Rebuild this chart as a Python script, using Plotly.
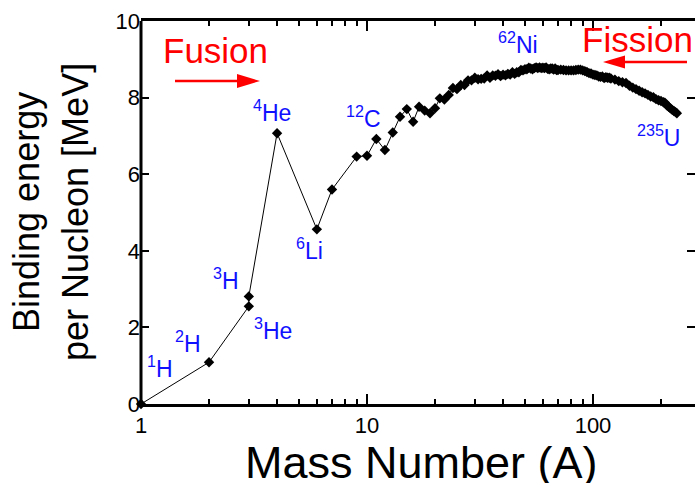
import plotly.graph_objects as go

# ---- data ----
mass_number = [1, 2, 3, 3, 4, 6, 7, 9, 10, 11, 12, 13, 14, 15, 16, 17, 18, 19, 20, 21, 22, 23, 24,
               25, 26, 27, 28, 29, 30, 31, 32, 33, 34, 35, 36, 37, 38, 39, 40, 41, 42, 43, 44, 45,
               46, 47, 48, 49, 50, 51, 52, 53, 54, 55, 56, 57, 58, 59, 60, 61, 62, 63, 64, 65, 66,
               67, 68, 69, 70, 72, 74, 76, 78, 80, 82, 84, 86, 88, 90, 92, 94, 96, 98, 100, 102,
               104, 106, 108, 110, 112, 114, 116, 118, 120, 125, 130, 135, 140, 145, 150, 155, 160,
               165, 170, 175, 180, 185, 190, 195, 200, 205, 208, 212, 216, 220, 224, 228, 232, 235]
binding_energy = [0.00, 1.09, 2.55, 2.81, 7.07, 4.56, 5.60, 6.46, 6.48, 6.92, 6.63, 7.09, 7.50, 7.70,
                  7.37, 7.76, 7.66, 7.59, 7.72, 7.98, 7.95, 8.07, 8.25,
                  8.22, 8.33, 8.33, 8.45, 8.45, 8.52, 8.48, 8.49, 8.50, 8.58, 8.52, 8.58, 8.57, 8.61,
                  8.56, 8.60, 8.58, 8.62, 8.60, 8.66, 8.62, 8.66, 8.66, 8.72, 8.71, 8.74, 8.74, 8.78,
                  8.76, 8.74, 8.77, 8.79, 8.77, 8.79, 8.77, 8.78, 8.77, 8.79, 8.75, 8.74, 8.76, 8.76,
                  8.73, 8.76, 8.72, 8.72, 8.73, 8.72, 8.71, 8.71, 8.71, 8.71, 8.72, 8.73, 8.73, 8.71,
                  8.69, 8.67, 8.64, 8.63, 8.60, 8.59, 8.58, 8.55, 8.54, 8.55, 8.51, 8.53, 8.52, 8.52,
                  8.50, 8.47, 8.43, 8.40, 8.38, 8.31, 8.26, 8.22, 8.18, 8.14, 8.11, 8.07, 8.03, 8.01,
                  7.96, 7.93, 7.91, 7.88, 7.87, 7.80, 7.76, 7.72, 7.68, 7.65, 7.62, 7.59]
x_tick_vals = [1, 10, 100]
x_tick_text = ["1", "10", "100"]
y_tick_vals = [0, 2, 4, 6, 8, 10]

nuclide_labels = ["<sup>1</sup>H", "<sup>2</sup>H", "<sup>3</sup>H", "<sup>3</sup>He", "<sup>6</sup>Li",
                  "<sup>4</sup>He", "<sup>12</sup>C", "<sup>62</sup>Ni", "<sup>235</sup>U"]

# ---- layout geometry (pixels) ----
W, H = 695, 483
L, R, T, B = 141, 0, 21, 79
PW, PH = W - L - R, H - T - B
DECADE = 226.0


def px(xp):
    return (xp - L) / PW


def py(yp):
    return (H - B - yp) / PH


fig = go.Figure()
fig.add_trace(go.Scatter(
    x=mass_number, y=binding_energy, mode="lines+markers",
    line=dict(color="black", width=1),
    marker=dict(symbol="diamond", size=8, color="black"),
    showlegend=False, cliponaxis=False,
))

label_pos = [(160, 378.3), (188.3, 353.3), (225.5, 290), (273.3, 340), (309, 260),
             (272, 121.7), (363.3, 128.3), (518.3, 54), (658.7, 146.7)]
LBL = 23
annotations = []
for txt, (xc, base) in zip(nuclide_labels, label_pos):
    annotations.append(dict(text=txt, xref="paper", yref="paper", x=px(xc), y=py(base + 0.212 * LBL),
                            xanchor="center", yanchor="bottom", showarrow=False, borderpad=0,
                            font=dict(family="Liberation Sans, Arial", size=LBL, color="#1010ff")))

annotations.append(dict(text="Fusion", xref="paper", yref="paper", x=px(215), y=py(64 + 7.4),
                        xanchor="center", yanchor="bottom", showarrow=False, borderpad=0,
                        font=dict(family="Liberation Sans, Arial", size=35, color="#ff0000")))
annotations.append(dict(text="Fission", xref="paper", yref="paper", x=px(637), y=py(53 + 7.4),
                        xanchor="center", yanchor="bottom", showarrow=False, borderpad=0,
                        font=dict(family="Liberation Sans, Arial", size=35, color="#ff0000")))
annotations.append(dict(text="Mass Number (A)", xref="paper", yref="paper", x=px(421), y=py(479 + 9.6),
                        xanchor="center", yanchor="bottom", showarrow=False, borderpad=0,
                        font=dict(family="Liberation Sans, Arial", size=45, color="black")))
annotations.append(dict(text="Binding energy", xref="paper", yref="paper", x=px(26.5), y=py(212.5),
                        xanchor="center", yanchor="middle", showarrow=False, borderpad=0, textangle=-90,
                        font=dict(family="Liberation Sans, Arial", size=36, color="black")))
annotations.append(dict(text="per Nucleon [MeV]", xref="paper", yref="paper", x=px(75.5), y=py(212.5),
                        xanchor="center", yanchor="middle", showarrow=False, borderpad=0, textangle=-90,
                        font=dict(family="Liberation Sans, Arial", size=36, color="black")))


def tri(x_tip, x_base, yc, half):
    return (f"M {px(x_tip)},{py(yc)} L {px(x_base)},{py(yc - half)} "
            f"L {px(x_base)},{py(yc + half)} Z")


shapes = [
    dict(type="line", xref="paper", yref="paper", x0=0, x1=0, y0=0, y1=1,
         line=dict(color="black", width=3)),
    dict(type="line", xref="paper", yref="paper", x0=px(175), x1=px(240), y0=py(81), y1=py(81),
         line=dict(color="#ff0000", width=2.5)),
    dict(type="path", xref="paper", yref="paper", path=tri(260, 237, 81, 7),
         fillcolor="#ff0000", line=dict(color="#ff0000", width=0)),
    dict(type="line", xref="paper", yref="paper", x0=px(687), x1=px(622), y0=py(62), y1=py(62),
         line=dict(color="#ff0000", width=2.5)),
    dict(type="path", xref="paper", yref="paper", path=tri(603, 625, 62, 6.5),
         fillcolor="#ff0000", line=dict(color="#ff0000", width=0)),
]

fig.update_layout(
    width=W, height=H, autosize=False,
    margin=dict(l=L, r=R, t=T, b=B, pad=0),
    paper_bgcolor="white", plot_bgcolor="white",
    font=dict(family="Liberation Sans, Arial", color="black"),
    annotations=annotations, shapes=shapes,
    xaxis=dict(type="log", range=[0, PW / DECADE], tickvals=x_tick_vals, ticktext=x_tick_text,
               ticks="inside", ticklen=10, tickwidth=2, tickcolor="black",
               minor=dict(ticks="inside", ticklen=5, tickwidth=1.5, tickcolor="black", dtick="D1"),
               showline=True, linewidth=2.5, linecolor="black", mirror="ticks",
               showgrid=False, zeroline=False, tickfont=dict(size=22)),
    yaxis=dict(range=[0, 10], tickvals=y_tick_vals, ticks="inside", ticklen=8, tickwidth=2,
               tickcolor="black", showline=False, mirror="ticks",
               showgrid=False, zeroline=False, tickfont=dict(size=22)),
)

fig.write_html("out.html")
